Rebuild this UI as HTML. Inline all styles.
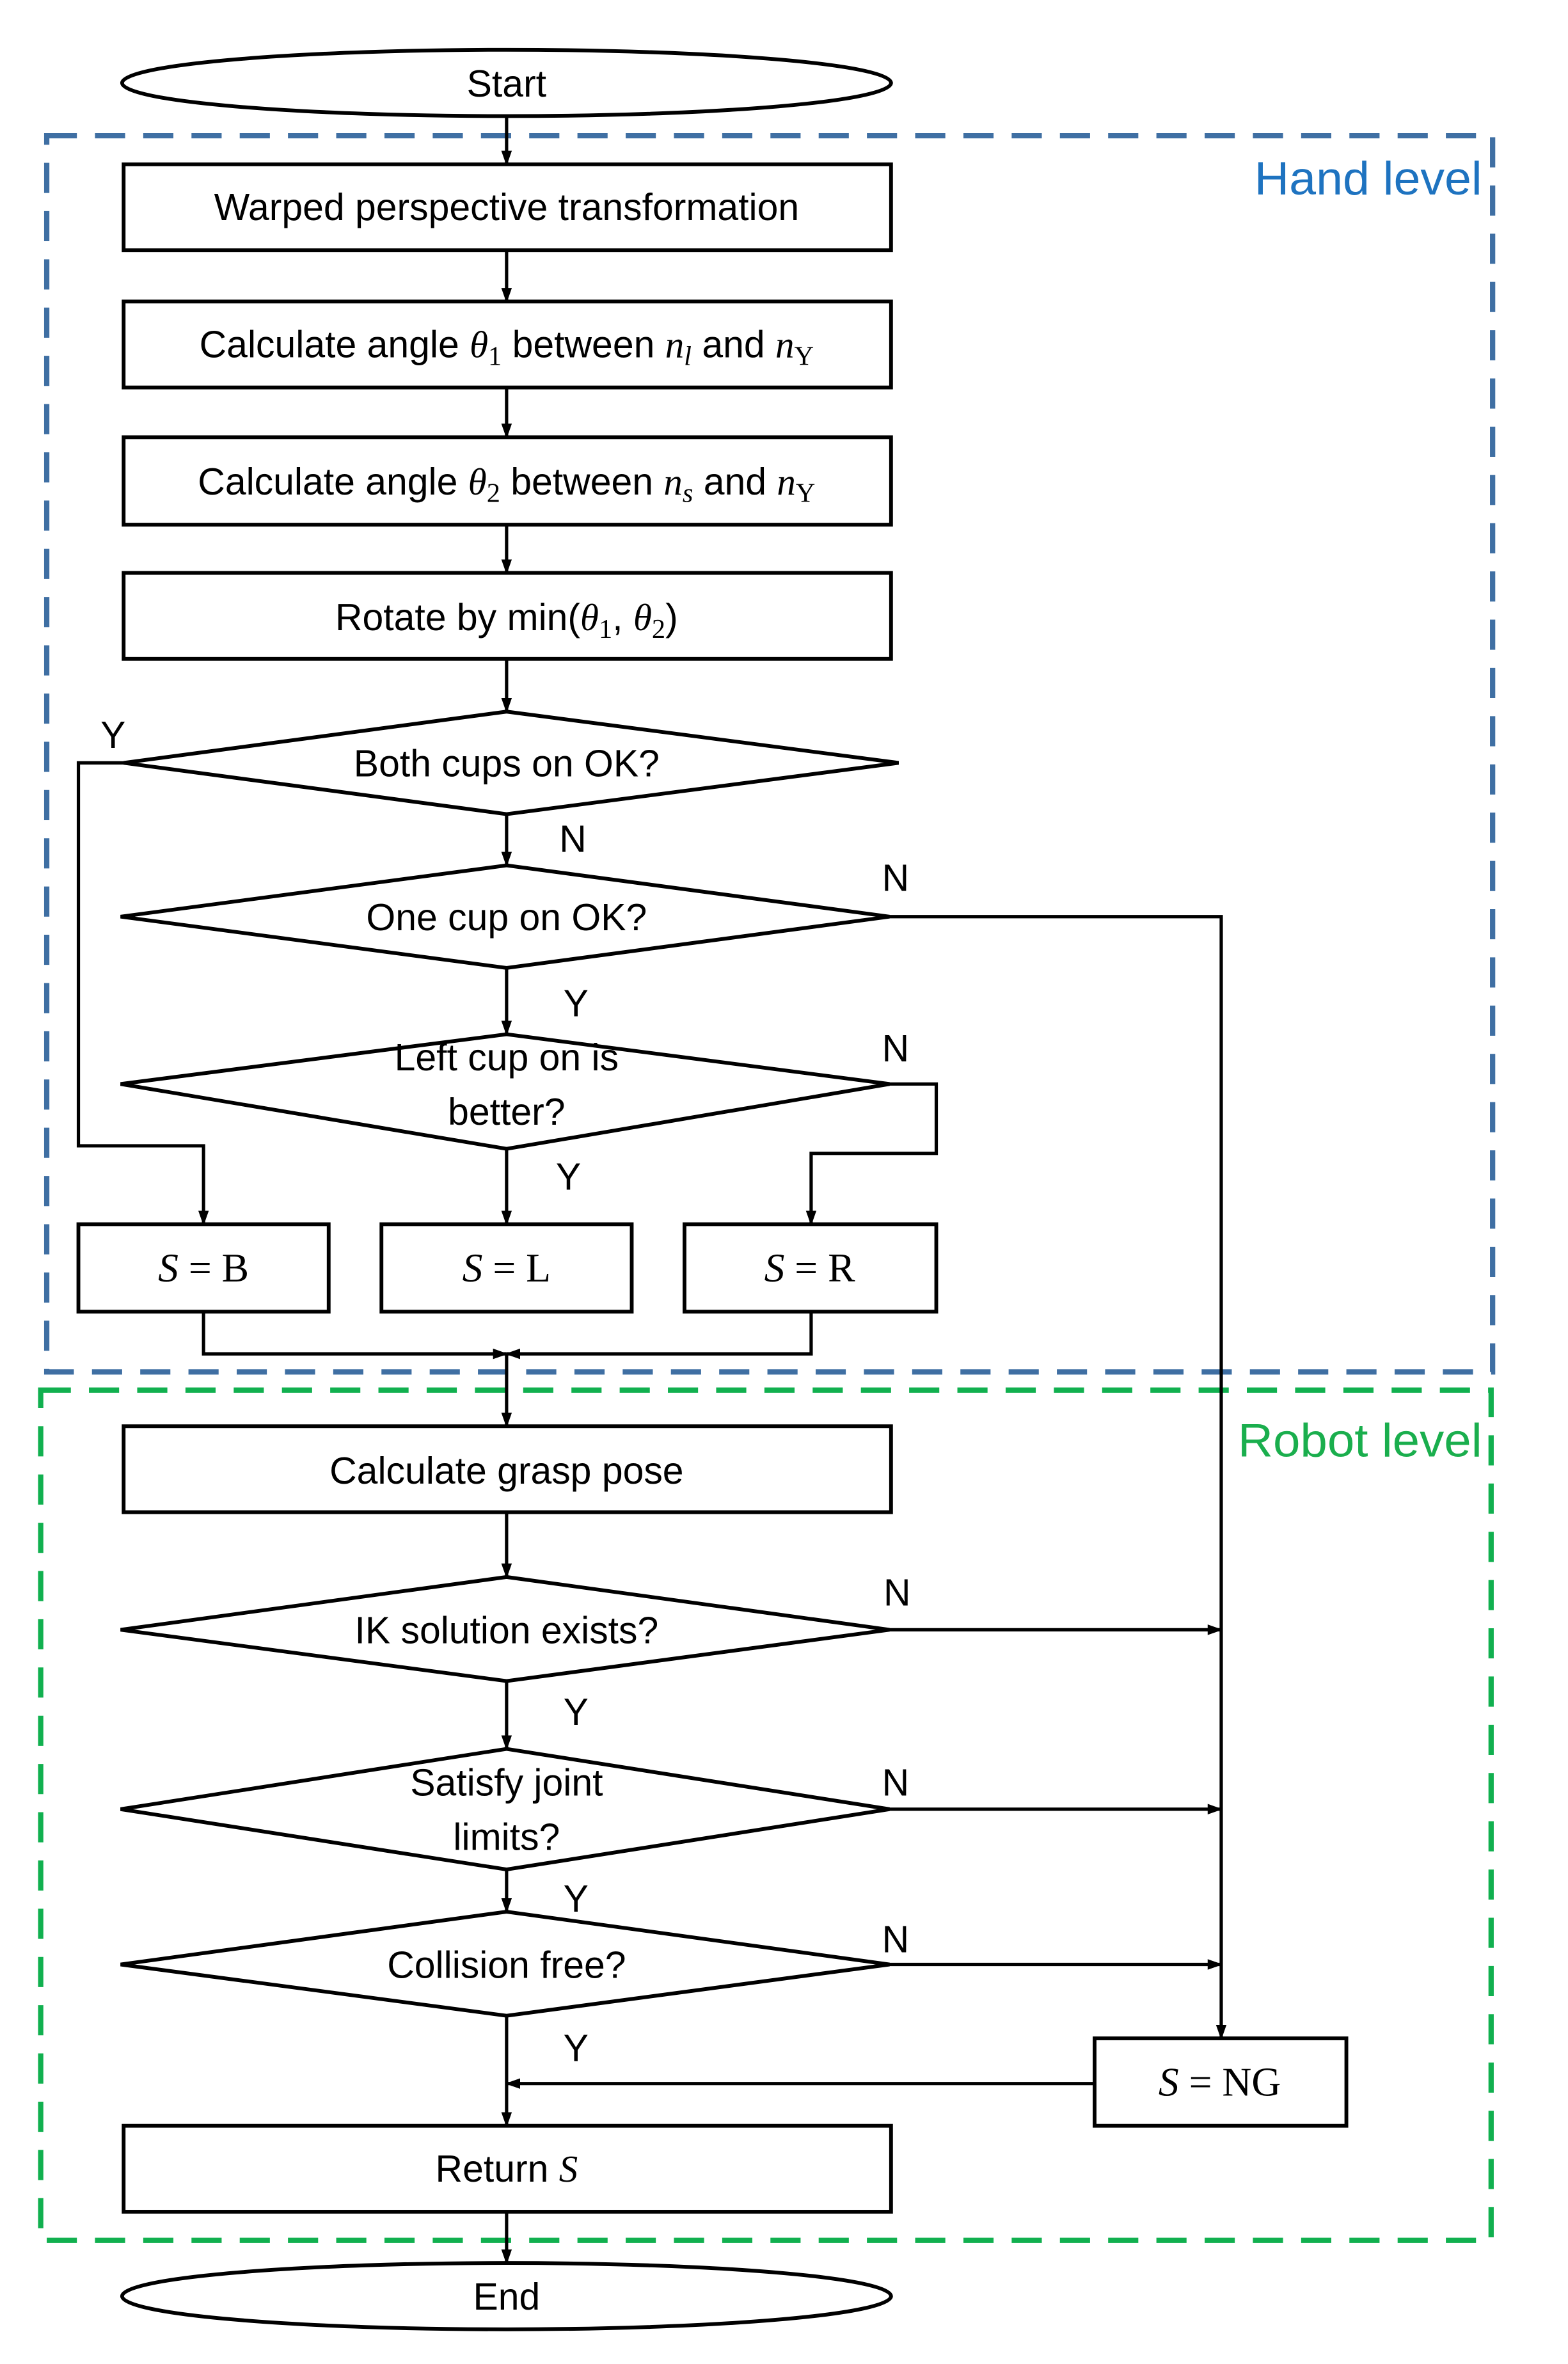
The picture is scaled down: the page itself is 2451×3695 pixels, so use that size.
<!DOCTYPE html>
<html><head><meta charset="utf-8"><style>html,body{margin:0;padding:0;background:#fff}svg{display:block}</style></head>
<body>
<svg width="2451" height="3695" viewBox="0 0 1040 1568" preserveAspectRatio="none" xmlns="http://www.w3.org/2000/svg" font-family="Liberation Sans, sans-serif">
<defs>
<marker id="a" markerWidth="10" markerHeight="10" refX="9" refY="5" orient="auto" markerUnits="userSpaceOnUse"><path d="M0,1.5 L10,5 L0,8.5 z" fill="#000"/></marker>
</defs>
<rect width="1040" height="1568" fill="#fff"/>
<rect x="31" y="90" width="959" height="820" fill="none" stroke="#3f6fa3" stroke-width="3.5" stroke-dasharray="20,12"/>
<rect x="27" y="922" width="962" height="564" fill="none" stroke="#11b04f" stroke-width="3.5" stroke-dasharray="20,12"/>
<text x="983" y="129" font-size="31" fill="#1e73c0" text-anchor="end" textLength="151" lengthAdjust="spacingAndGlyphs">Hand level</text>
<text x="983" y="966" font-size="31" fill="#1aae4d" text-anchor="end" textLength="162" lengthAdjust="spacingAndGlyphs">Robot level</text>

<g stroke="#000" stroke-width="2.5" fill="#fff">
<ellipse cx="336" cy="55" rx="255" ry="22"/>
<ellipse cx="336" cy="1523" rx="255" ry="22"/>
<rect x="82" y="109" width="509" height="57"/>
<rect x="82" y="200" width="509" height="57"/>
<rect x="82" y="290" width="509" height="58"/>
<rect x="82" y="380" width="509" height="57"/>
<polygon points="82,506 336,472 596,506 336,540"/>
<polygon points="80,608 336,574 590,608 336,642"/>
<polygon points="80,719 336,686 590,719 336,762"/>
<rect x="52" y="812" width="166" height="58"/>
<rect x="253" y="812" width="166" height="58"/>
<rect x="454" y="812" width="167" height="58"/>
<rect x="82" y="946" width="509" height="57"/>
<polygon points="80,1081 336,1046 590,1081 336,1115"/>
<polygon points="80,1200 336,1160 590,1200 336,1240"/>
<polygon points="80,1303 336,1268 590,1303 336,1337"/>
<rect x="726" y="1352" width="167" height="58"/>
<rect x="82" y="1410" width="509" height="57"/>
</g>

<g stroke="#000" stroke-width="2.2" fill="none" marker-end="url(#a)">
<line x1="336" y1="77" x2="336" y2="109"/>
<line x1="336" y1="166" x2="336" y2="200"/>
<line x1="336" y1="257" x2="336" y2="290"/>
<line x1="336" y1="348" x2="336" y2="380"/>
<line x1="336" y1="437" x2="336" y2="472"/>
<line x1="336" y1="540" x2="336" y2="574"/>
<line x1="336" y1="642" x2="336" y2="686"/>
<line x1="336" y1="762" x2="336" y2="812"/>
<polyline points="82,506 52,506 52,760 135,760 135,812"/>
<polyline points="590,719 621,719 621,765 538,765 538,812"/>
<polyline points="590,608 810,608 810,1352"/>
<polyline points="135,870 135,898 336,898"/>
<polyline points="538,870 538,898 336,898"/>
<line x1="336" y1="898" x2="336" y2="946"/>
<line x1="336" y1="1003" x2="336" y2="1046"/>
<line x1="590" y1="1081" x2="810" y2="1081"/>
<line x1="336" y1="1115" x2="336" y2="1160"/>
<line x1="590" y1="1200" x2="810" y2="1200"/>
<line x1="336" y1="1240" x2="336" y2="1268"/>
<line x1="590" y1="1303" x2="810" y2="1303"/>
<line x1="336" y1="1337" x2="336" y2="1410"/>
<line x1="726" y1="1382" x2="336" y2="1382"/>
<line x1="336" y1="1467" x2="336" y2="1501"/>
</g>

<g font-size="25" fill="#000" text-anchor="middle">
<text x="336" y="64">Start</text>
<text x="336" y="1532">End</text>
<text x="336" y="146">Warped perspective transformation</text>
<text x="336" y="237">Calculate angle <tspan font-family="Liberation Serif" font-style="italic">θ</tspan><tspan font-family="Liberation Serif" font-size="18" dy="5">1</tspan><tspan dy="-5"> between </tspan><tspan font-family="Liberation Serif" font-style="italic">n</tspan><tspan font-family="Liberation Serif" font-style="italic" font-size="18" dy="5">l</tspan><tspan dy="-5"> and </tspan><tspan font-family="Liberation Serif" font-style="italic">n</tspan><tspan font-family="Liberation Serif" font-size="18" dy="5">Y</tspan></text>
<text x="336" y="328">Calculate angle <tspan font-family="Liberation Serif" font-style="italic">θ</tspan><tspan font-family="Liberation Serif" font-size="18" dy="5">2</tspan><tspan dy="-5"> between </tspan><tspan font-family="Liberation Serif" font-style="italic">n</tspan><tspan font-family="Liberation Serif" font-style="italic" font-size="18" dy="5">s</tspan><tspan dy="-5"> and </tspan><tspan font-family="Liberation Serif" font-style="italic">n</tspan><tspan font-family="Liberation Serif" font-size="18" dy="5">Y</tspan></text>
<text x="336" y="418">Rotate by min(<tspan font-family="Liberation Serif" font-style="italic">θ</tspan><tspan font-family="Liberation Serif" font-size="18" dy="5">1</tspan><tspan dy="-5">, </tspan><tspan font-family="Liberation Serif" font-style="italic">θ</tspan><tspan font-family="Liberation Serif" font-size="18" dy="5">2</tspan><tspan dy="-5">)</tspan></text>
<text x="336" y="515">Both cups on OK?</text>
<text x="336" y="617">One cup on OK?</text>
<text x="336" y="710">Left cup on is</text>
<text x="336" y="746">better?</text>
<text x="336" y="984">Calculate grasp pose</text>
<text x="336" y="1090">IK solution exists?</text>
<text x="336" y="1191">Satisfy joint</text>
<text x="336" y="1227">limits?</text>
<text x="336" y="1312">Collision free?</text>
<text x="336" y="1447">Return <tspan font-family="Liberation Serif" font-style="italic">S</tspan></text>
<g font-family="Liberation Serif" font-size="27">
<text x="135" y="850"><tspan font-style="italic">S</tspan> = B</text>
<text x="336" y="850"><tspan font-style="italic">S</tspan> = L</text>
<text x="537" y="850"><tspan font-style="italic">S</tspan> = R</text>
<text x="809" y="1390"><tspan font-style="italic">S</tspan> = NG</text>
</g>
<text x="75" y="496">Y</text>
<text x="380" y="565">N</text>
<text x="594" y="591">N</text>
<text x="382" y="674">Y</text>
<text x="594" y="704">N</text>
<text x="377" y="789">Y</text>
<text x="595" y="1065">N</text>
<text x="382" y="1144">Y</text>
<text x="594" y="1191">N</text>
<text x="382" y="1268">Y</text>
<text x="594" y="1295">N</text>
<text x="382" y="1367">Y</text>
</g>
</svg>
</body></html>
